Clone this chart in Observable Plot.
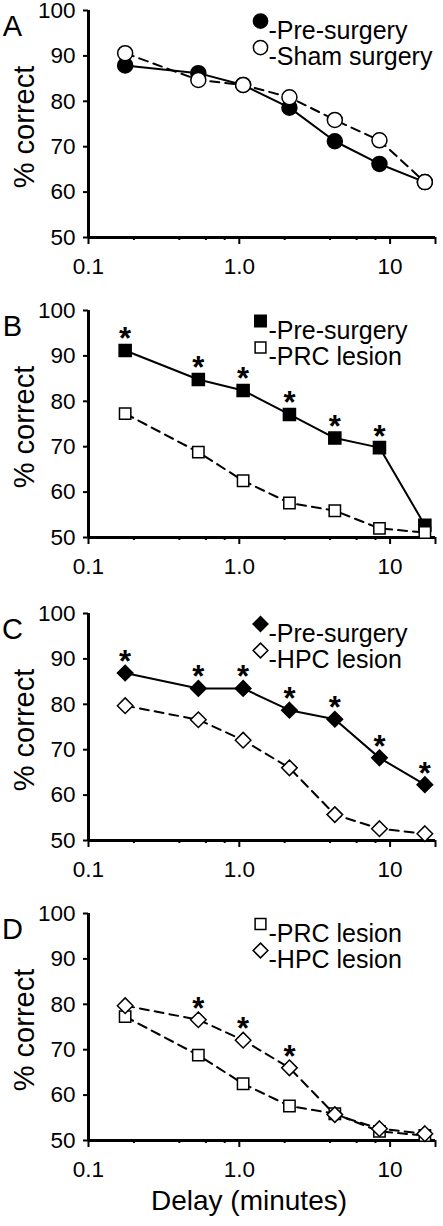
<!DOCTYPE html>
<html>
<head>
<meta charset="utf-8">
<script src="https://cdn.jsdelivr.net/npm/d3@7"></script>
<script src="https://cdn.jsdelivr.net/npm/@observablehq/plot@0.6"></script>
<style>
  html, body { margin: 0; padding: 0; background: #fff; }
  #chart { width: 443px; }
  #chart svg { display: block; overflow: visible; }
</style>
</head>
<body>
<div id="chart"></div>
<script>
// ---- Data ----
const delays = [0.175, 0.535, 1.06, 2.15, 4.3, 8.5, 17];

const aPreSurgery  = [87.9, 86.2, 83.6, 78.6, 71.2, 66.2, 62.2];
const aSham        = [90.6, 84.7, 83.6, 80.9, 75.9, 71.4, 62.2];
const bPreSurgery  = [91.2, 84.8, 82.4, 77.1, 71.9, 69.8, 52.7];
const prcLesion    = [77.3, 68.8, 62.5, 57.6, 55.9, 52.0, 51.1];
const cPreSurgery  = [86.9, 83.5, 83.5, 78.7, 76.7, 68.2, 62.3];
const hpcLesion    = [79.7, 76.6, 72.1, 66.0, 55.7, 52.6, 51.5];

const bStars = [true, true, true, true, true, true, false];      // over Pre-surgery
const cStars = [true, true, true, true, true, true, true];       // over Pre-surgery
const dStars = [false, true, true, true, false, false, false];   // over HPC lesion

const xTickValues = [0.1, 1, 10, 20];
const xTickLabels = ["0.1", "1.0", "10", ""];
const xMinorTicks = [0.2, 0.4, 0.6, 0.8, 2, 4, 6, 8];
const yTickValues = [50, 60, 70, 80, 90, 100];

const FONT = "'Liberation Sans', Arial, Helvetica, sans-serif";
const tickLabelMap = new Map(xTickValues.map((v, i) => [v, xTickLabels[i]]));

function rows(values) {
  return delays.map((d, i) => ({delay: d, value: values[i]}));
}

function panel({letter, series, starSeries, stars, height, marginTop, marginBottom, xLabel}) {
  const marks = [];
  // axis lines
  marks.push(Plot.ruleX([0.1], {stroke: "black", strokeWidth: 3}));
  marks.push(Plot.ruleY([50], {stroke: "black", strokeWidth: 3}));
  // lines
  for (const s of series) {
    marks.push(Plot.line(rows(s.values), {
      x: "delay", y: "value", stroke: "black", strokeWidth: 2,
      strokeDasharray: s.dashed ? "9,6" : null
    }));
  }
  // dots
  for (const s of series) {
    marks.push(Plot.dot(rows(s.values), {
      x: "delay", y: "value", symbol: s.symbol, r: s.r,
      fill: s.filled ? "black" : "white", stroke: "black", strokeWidth: 1.5
    }));
  }
  // significance stars
  if (stars) {
    const starRows = rows(starSeries.values).filter((d, i) => stars[i]);
    marks.push(Plot.text(starRows, {
      x: "delay", y: "value", text: () => "*", dy: -11,
      fontSize: 31, fontWeight: "bold", fill: "black"
    }));
  }
  // legend
  series.forEach((s, i) => {
    const dy = 10.5 + i * 26.5;
    marks.push(Plot.dot([s], {
      frameAnchor: "top-right", dx: -175, dy, symbol: s.symbol, r: s.r * 0.95,
      fill: s.filled ? "black" : "white", stroke: "black", strokeWidth: 1.5
    }));
    marks.push(Plot.text([s], {
      frameAnchor: "top-right", dx: -167, dy, text: d => "-" + d.name,
      textAnchor: "start", fontSize: 25, fill: "black"
    }));
  });
  // panel letter
  marks.push(Plot.text([letter], {
    frameAnchor: "top-left", dx: -76, dy: 5, text: d => d,
    textAnchor: "middle", fontSize: 29, fill: "black"
  }));
  // y label
  marks.push(Plot.text(["% correct"], {
    frameAnchor: "left", dx: -64, dy: 3, text: d => d, rotate: -90,
    textAnchor: "middle", fontSize: 29, fill: "black"
  }));
  if (xLabel) {
    marks.push(Plot.text([xLabel], {
      frameAnchor: "bottom", dx: -13, dy: 69, text: d => d,
      textAnchor: "middle", fontSize: 28, fill: "black"
    }));
  }
  // axes
  marks.push(Plot.axisY({
    ticks: yTickValues, tickSize: 5, tickPadding: 8, fontSize: 22.5,
    strokeWidth: 2, label: null, stroke: "black", fill: "black"
  }));
  marks.push(Plot.axisX({
    ticks: xTickValues, tickFormat: d => tickLabelMap.get(d), tickSize: 7,
    tickPadding: 14, fontSize: 22.5, strokeWidth: 2, label: null, stroke: "black", fill: "black"
  }));
  marks.push(Plot.axisX({
    ticks: xMinorTicks, tickFormat: () => "", tickSize: 3, strokeWidth: 2,
    label: null, stroke: "black"
  }));

  return Plot.plot({
    width: 443, height, marginLeft: 88, marginRight: 8, marginTop, marginBottom,
    style: {fontFamily: FONT, background: "white", color: "black", overflow: "visible"},
    x: {type: "log", domain: [0.1, 20]},
    y: {domain: [50, 100]},
    marks
  });
}

const chart = document.getElementById("chart");

chart.append(panel({
  letter: "A", height: 300, marginTop: 10, marginBottom: 63,
  series: [
    {name: "Pre-surgery", values: aPreSurgery, symbol: "circle", r: 7.5, filled: true, dashed: false},
    {name: "Sham surgery", values: aSham, symbol: "circle", r: 7.5, filled: false, dashed: true}
  ]
}));

const bSeries = [
  {name: "Pre-surgery", values: bPreSurgery, symbol: "square", r: 6.8, filled: true, dashed: false},
  {name: "PRC lesion", values: prcLesion, symbol: "square", r: 6.4, filled: false, dashed: true}
];
chart.append(panel({
  letter: "B", height: 300, marginTop: 10, marginBottom: 63,
  series: bSeries, starSeries: bSeries[0], stars: bStars
}));

const cSeries = [
  {name: "Pre-surgery", values: cPreSurgery, symbol: "diamond2", r: 7, filled: true, dashed: false},
  {name: "HPC lesion", values: hpcLesion, symbol: "diamond2", r: 7, filled: false, dashed: true}
];
chart.append(panel({
  letter: "C", height: 303, marginTop: 13, marginBottom: 63,
  series: cSeries, starSeries: cSeries[0], stars: cStars
}));

const dSeries = [
  {name: "PRC lesion", values: prcLesion, symbol: "square", r: 6.4, filled: false, dashed: true},
  {name: "HPC lesion", values: hpcLesion, symbol: "diamond2", r: 7, filled: false, dashed: true}
];
chart.append(panel({
  letter: "D", height: 323, marginTop: 10, marginBottom: 86,
  series: dSeries, starSeries: dSeries[1], stars: dStars, xLabel: "Delay (minutes)"
}));
</script>
</body>
</html>
